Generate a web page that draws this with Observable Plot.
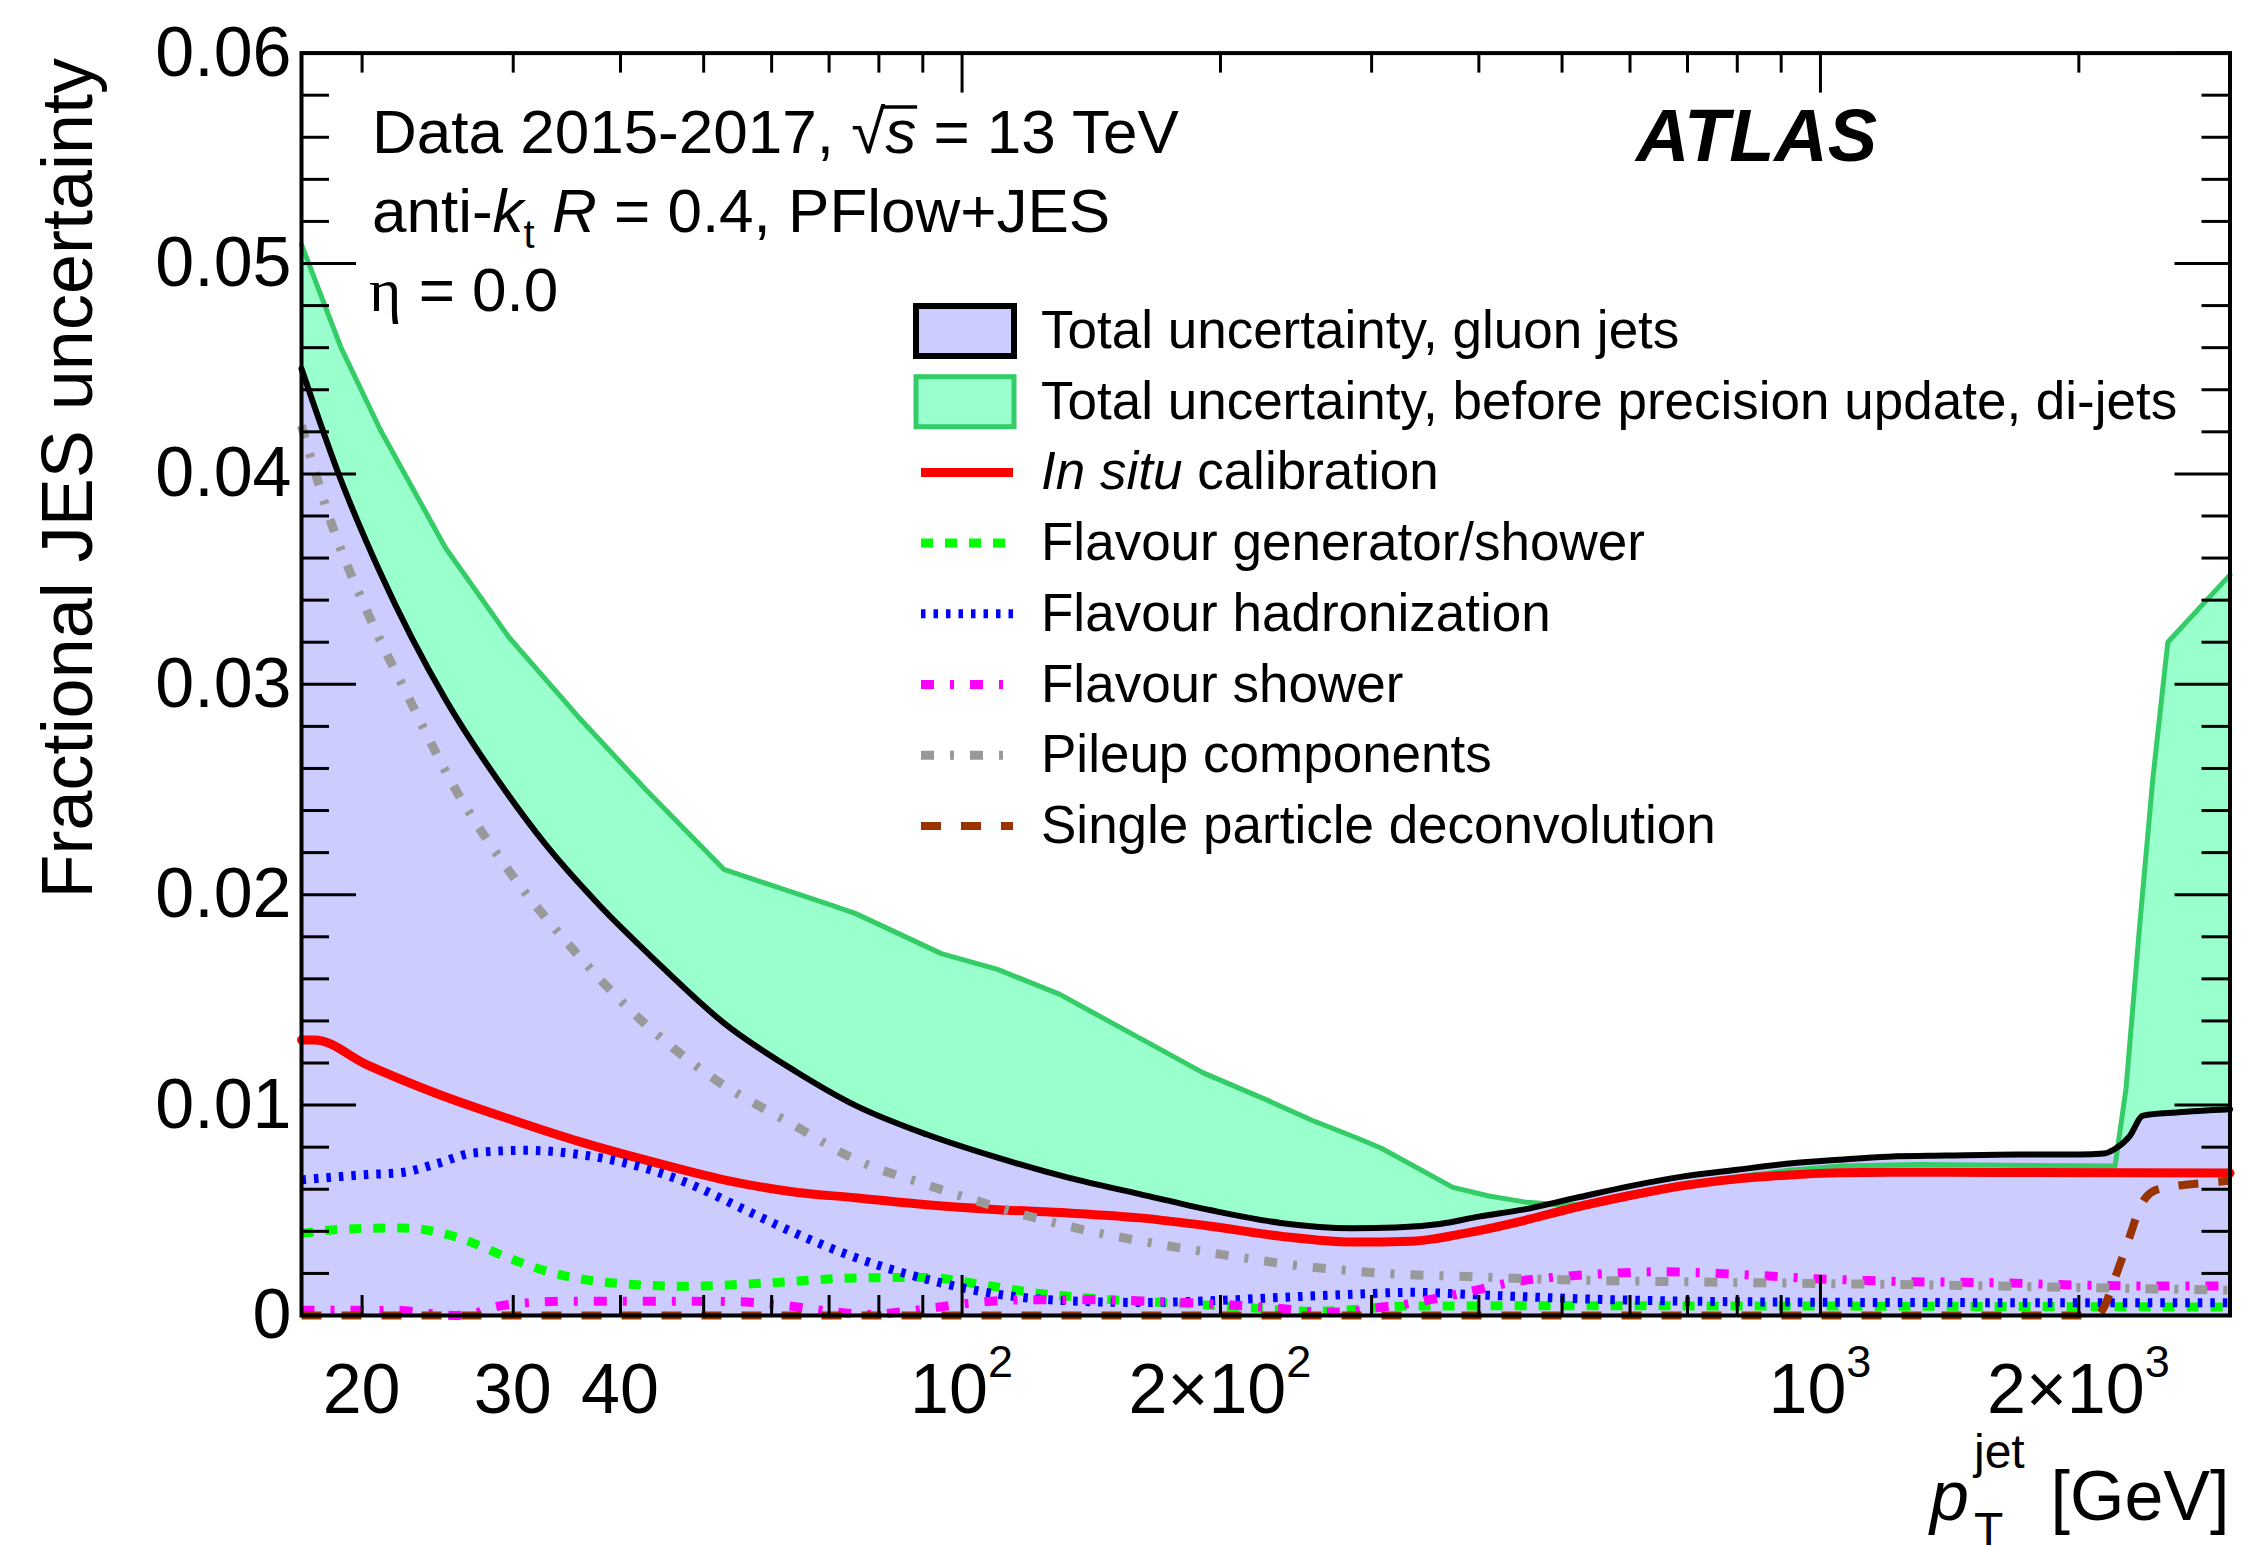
<!DOCTYPE html>
<html>
<head>
<meta charset="utf-8">
<script src="https://cdn.jsdelivr.net/npm/d3@7"></script>
<script src="https://cdn.jsdelivr.net/npm/@observablehq/plot@0.6"></script>
<style>
  html, body { margin: 0; padding: 0; background: #fff; }
</style>
</head>
<body>
<div id="chart"></div>
<script>
const FONT = "'Liberation Sans', Arial, Helvetica, sans-serif";

// Jet pT [GeV] and fractional JES uncertainty, eta = 0
const totalGluon = [[17,0.0450],[18.9,0.0397],[21,0.0353],[25,0.0293],[29.3,0.0250],[32.7,0.0224],[37.8,0.0195],[43.6,0.0170],[52.8,0.0139],[64,0.0116],[75,0.0100],[91,0.0086],[110,0.0075],[133,0.00655],[161,0.00577],[195,0.0050],[235,0.0044],[285,0.00415],[320,0.00418],[360,0.00435],[400,0.0047],[450,0.00503],[520,0.0056],[600,0.00615],[690,0.0066],[800,0.00693],[920,0.00722],[1050,0.0074],[1200,0.00755],[1400,0.0076],[1700,0.00765],[2000,0.00765],[2140,0.0077],[2200,0.0079],[2290,0.0085],[2376,0.0095],[2600,0.00965],[3000,0.0098]];

const totalBeforeUpdate = [[17,0.0509],[18.9,0.0460],[21,0.0421],[25,0.0365],[29.7,0.0322],[36,0.0283],[42.8,0.0250],[52.8,0.0212],[70.4,0.0195],[75.2,0.0191],[94.6,0.0172],[110,0.01645],[130,0.01526],[156,0.01349],[191,0.01153],[226,0.01026],[256,0.00927],[288,0.00845],[308,0.00795],[373,0.00609],[411,0.00568],[452,0.0054],[500,0.00525],[550,0.0053],[600,0.0058],[700,0.0063],[800,0.0066],[920,0.0069],[1050,0.0071],[1300,0.00718],[2204,0.0071],[2270,0.0108],[2353,0.0184],[2439,0.0255],[2539,0.0320],[3000,0.0352]];

const inSitu = [[17,0.0131],[17.6,0.0131],[20.3,0.0119],[24.5,0.01053],[29.7,0.00934],[36,0.00824],[43.6,0.0073],[52.8,0.00645],[64,0.00586],[75,0.0056],[91,0.00526],[110,0.00503],[133,0.00487],[161,0.00464],[195,0.00424],[235,0.00377],[285,0.00349],[334,0.00353],[389,0.00394],[449,0.00449],[517,0.00513],[596,0.00568],[687,0.00615],[791,0.00647],[912,0.00667],[1051,0.00678],[1211,0.00681],[1600,0.0068],[3000,0.00677]];

const flavourGenerator = [[17,0.0039],[19,0.0041],[22.3,0.00416],[25.7,0.00374],[29.7,0.00272],[32.7,0.00212],[39.6,0.00153],[48,0.00139],[58.2,0.00153],[75.2,0.00178],[91,0.00181],[105,0.00148],[121,0.00109],[146,0.00078],[177,0.00059],[214,0.00038],[259,0.0002],[334,0.00045],[500,0.00046],[3000,0.0004]];

const hadronization = [[17,0.00645],[20.3,0.0067],[22.3,0.0068],[24.5,0.00723],[27,0.00773],[31.2,0.00785],[36,0.00764],[41.6,0.00713],[48,0.00628],[55.4,0.00509],[64,0.0039],[75.2,0.00275],[91,0.00172],[110,0.00101],[133,0.0007],[161,0.00062],[195,0.0007],[235,0.00086],[285,0.00101],[334,0.0011],[400,0.00098],[520,0.0008],[700,0.00068],[1200,0.00062],[3000,0.0006]];

const flavourShower = [[17,0.00025],[22,0.00024],[24,0.0001],[25.5,0],[27,0.0001],[28.5,0.0004],[31,0.0006],[35,0.00068],[45,0.00068],[55,0.00065],[63,0.00045],[70,0.0002],[78,0.00005],[86,0.0002],[94,0.0004],[103,0.0006],[120,0.00075],[140,0.00075],[165,0.00068],[190,0.00058],[215,0.00045],[240,0.0003],[262,0.00015],[285,0.0002],[305,0.00038],[322,0.00048],[340,0.00065],[390,0.00114],[440,0.0016],[500,0.00185],[570,0.002],[650,0.00208],[740,0.00202],[850,0.0019],[970,0.00176],[1100,0.00168],[1250,0.00161],[1450,0.00158],[1650,0.00155],[1850,0.00148],[2100,0.00143],[2400,0.0014],[3000,0.0014]];

const pileup = [[17,0.0423],[18.4,0.0377],[20.3,0.0334],[22.7,0.0293],[25.7,0.0250],[29.7,0.0211],[34.7,0.0177],[41.6,0.0143],[50.8,0.0114],[64,0.0090],[74.6,0.00747],[91,0.00621],[103,0.0055],[116,0.00487],[133,0.00424],[170,0.00338],[195,0.00298],[249,0.00235],[285,0.00212],[322,0.00196],[374,0.00187],[500,0.0017],[700,0.0016],[1000,0.00152],[1500,0.00142],[2200,0.0013],[3000,0.0012]];

const singleParticle = [[17,0],[2100,0],[2140,0.0004],[2200,0.0017],[2290,0.0037],[2360,0.0052],[2440,0.0059],[2550,0.0061],[2800,0.0063],[3000,0.0064]];

// Axis ticks and labels
const yMajorTicks = [0, 0.01, 0.02, 0.03, 0.04, 0.05, 0.06];
const yMinorTicks = [0.002,0.004,0.006,0.008,0.012,0.014,0.016,0.018,0.022,0.024,0.026,0.028,0.032,0.034,0.036,0.038,0.042,0.044,0.046,0.048,0.052,0.054,0.056,0.058];
const xMajorTicks = [100, 1000];
const xMinorTicks = [20,30,40,50,60,70,80,90,200,300,400,500,600,700,800,900,2000];
const xTickLabels = [
  {v: 20, base: "20"}, {v: 30, base: "30"}, {v: 40, base: "40"},
  {v: 100, base: "10", exp: "2"}, {v: 200, base: "2\u00d710", exp: "2"},
  {v: 1000, base: "10", exp: "3"}, {v: 2000, base: "2\u00d710", exp: "3"}
];

const rows = (arr) => arr.map(([pt, v]) => ({pt, v}));
const smooth = (extra) => ({x: "pt", y: "v", curve: "monotone-x", ...extra});
const dashed = (extra) => smooth({strokeLinecap: "butt", strokeLinejoin: "round", ...extra});

const tickStyle = {stroke: "#000", strokeWidth: 3};

const plot = Plot.plot({
  width: 2244,
  height: 1545,
  marginLeft: 301,
  marginRight: 14.5,
  marginTop: 52.6,
  marginBottom: 230,
  x: {type: "log", domain: [17, 3000], axis: null},
  y: {domain: [0, 0.06], axis: null},
  style: {fontFamily: FONT, background: "#fff", color: "#000"},
  marks: [
    Plot.areaY(rows(totalBeforeUpdate), {x: "pt", y: "v", fill: "#99ffcc", curve: "linear"}),
    Plot.areaY(rows(totalGluon), {x: "pt", y: "v", fill: "#ccccff", curve: "monotone-x"}),
    Plot.line(rows(totalBeforeUpdate), {x: "pt", y: "v", stroke: "#33cc66", strokeWidth: 5, curve: "linear"}),
    Plot.line(rows(inSitu), smooth({stroke: "#ff0000", strokeWidth: 9})),
    Plot.line(rows(flavourGenerator), dashed({stroke: "#00ff00", strokeWidth: 9, strokeDasharray: "12,12"})),
    Plot.line(rows(hadronization), dashed({stroke: "#0000ff", strokeWidth: 9, strokeDasharray: "4.5,8"})),
    Plot.line(rows(flavourShower), dashed({stroke: "#ff00ff", strokeWidth: 9, strokeDasharray: "13,16,4,16"})),
    Plot.line(rows(pileup), dashed({stroke: "#999999", strokeWidth: 9, strokeDasharray: "13,16,4,16"})),
    Plot.line(rows(singleParticle), dashed({stroke: "#993300", strokeWidth: 8, strokeDasharray: "20,20"})),
    Plot.line(rows(totalGluon), smooth({stroke: "#000", strokeWidth: 6})),

    // inward ticks on all four sides
    Plot.ruleX(xMinorTicks, {x: (d) => d, y1: () => 0, y2: () => 0, insetTop: -20, ...tickStyle}),
    Plot.ruleX(xMajorTicks, {x: (d) => d, y1: () => 0, y2: () => 0, insetTop: -40, ...tickStyle}),
    Plot.ruleX(xMinorTicks, {x: (d) => d, y1: () => 0.06, y2: () => 0.06, insetBottom: -20, ...tickStyle}),
    Plot.ruleX(xMajorTicks, {x: (d) => d, y1: () => 0.06, y2: () => 0.06, insetBottom: -40, ...tickStyle}),
    Plot.ruleY(yMinorTicks, {y: (d) => d, x1: () => 17, x2: () => 17, insetRight: -28, ...tickStyle}),
    Plot.ruleY(yMajorTicks, {y: (d) => d, x1: () => 17, x2: () => 17, insetRight: -55, ...tickStyle}),
    Plot.ruleY(yMinorTicks, {y: (d) => d, x1: () => 3000, x2: () => 3000, insetLeft: -28, ...tickStyle}),
    Plot.ruleY(yMajorTicks, {y: (d) => d, x1: () => 3000, x2: () => 3000, insetLeft: -55, ...tickStyle}),
    Plot.frame({stroke: "#000", strokeWidth: 4}),

    Plot.text(yMajorTicks, {
      x: () => 17, y: (d) => d,
      text: (d) => (d === 0 ? "0" : d.toFixed(2)),
      textAnchor: "end", dx: -10, fontSize: 70, fill: "#000"
    })
  ]
});

document.getElementById("chart").appendChild(plot);

const svg = d3.select(plot);
const xs = plot.scale("x");
const ys = plot.scale("y");
const g = svg.append("g")
  .attr("font-family", FONT)
  .attr("fill", "#000")
  .attr("text-anchor", "start");

// x tick labels with exponents
const yZero = ys.apply(0);
for (const t of xTickLabels) {
  const txt = g.append("text")
    .attr("x", xs.apply(t.v))
    .attr("y", yZero + 98)
    .attr("text-anchor", "middle")
    .attr("font-size", 70);
  txt.append("tspan").text(t.base);
  if (t.exp) txt.append("tspan").attr("font-size", 45).attr("dy", -36).text(t.exp);
}

// axis titles
g.append("text")
  .attr("transform", "translate(92,58) rotate(-90)")
  .attr("text-anchor", "end")
  .attr("font-size", 72)
  .text("Fractional JES uncertainty");

g.append("text").attr("x", 2229.5).attr("y", 1520).attr("text-anchor", "end").attr("font-size", 70).text("[GeV]");
g.append("text").attr("x", 1930).attr("y", 1520).attr("font-size", 70).attr("font-style", "italic").text("p");
g.append("text").attr("x", 1974).attr("y", 1468).attr("font-size", 48).text("jet");
g.append("text").attr("x", 1974).attr("y", 1546).attr("font-size", 48).text("T");

// labels in the upper left
const lineFont = 62;
const l1 = g.append("text").attr("x", 372).attr("y", 153).attr("font-size", lineFont);
l1.append("tspan").text("Data 2015-2017, ");
l1.append("tspan").text("\u221a");
l1.append("tspan").attr("font-style", "italic").text("s");
l1.append("tspan").text(" = 13 TeV");
// bar of the square root over "s"
{
  const node = l1.node();
  const iRoot = "Data 2015-2017, ".length;
  const rootBox = node.getExtentOfChar(iRoot);
  const sBox = node.getExtentOfChar(iRoot + 1);
  g.append("line")
    .attr("x1", rootBox.x + rootBox.width - 3)
    .attr("x2", sBox.x + sBox.width + 1)
    .attr("y1", 153 - lineFont * 0.74)
    .attr("y2", 153 - lineFont * 0.74)
    .attr("stroke", "#000").attr("stroke-width", 3.5);
}

const l2 = g.append("text").attr("x", 372).attr("y", 232).attr("font-size", lineFont);
l2.append("tspan").text("anti-");
l2.append("tspan").attr("font-style", "italic").text("k");
l2.append("tspan").attr("font-size", 40).attr("dy", 16).text("t");
l2.append("tspan").attr("dy", -16).text(" ");
l2.append("tspan").attr("font-style", "italic").text("R");
l2.append("tspan").text(" = 0.4, PFlow+JES");

const l3 = g.append("text").attr("x", 369).attr("y", 311).attr("font-size", lineFont);
l3.append("tspan").attr("font-family", "'Liberation Serif', 'DejaVu Serif', serif").text("\u03b7");
l3.append("tspan").text(" = 0.0");

g.append("text")
  .attr("x", 1636).attr("y", 161)
  .attr("font-size", 74).attr("font-weight", "bold").attr("font-style", "italic")
  .text("ATLAS");

// legend
const legendEntries = [
  {kind: "box", fill: "#ccccff", stroke: "#000", width: 6, text: [["Total uncertainty, gluon jets"]]},
  {kind: "box", fill: "#99ffcc", stroke: "#33cc66", width: 5, text: [["Total uncertainty, before precision update, di-jets"]]},
  {kind: "line", stroke: "#ff0000", width: 9, dash: null, text: [["In situ", "italic"], [" calibration"]]},
  {kind: "line", stroke: "#00ff00", width: 9, dash: "12,12", text: [["Flavour generator/shower"]]},
  {kind: "line", stroke: "#0000ff", width: 9, dash: "4.5,8", text: [["Flavour hadronization"]]},
  {kind: "line", stroke: "#ff00ff", width: 9, dash: "13,16,4,16", text: [["Flavour shower"]]},
  {kind: "line", stroke: "#999999", width: 9, dash: "13,16,4,16", text: [["Pileup components"]]},
  {kind: "line", stroke: "#993300", width: 8, dash: "20,20", text: [["Single particle deconvolution"]]}
];

legendEntries.forEach((e, i) => {
  const cy = 331 + i * 70.7;
  if (e.kind === "box") {
    g.append("rect")
      .attr("x", 916).attr("y", cy - 25).attr("width", 98).attr("height", 50)
      .attr("fill", e.fill).attr("stroke", e.stroke).attr("stroke-width", e.width);
  } else {
    g.append("line")
      .attr("x1", 921).attr("x2", 1013).attr("y1", cy).attr("y2", cy)
      .attr("stroke", e.stroke).attr("stroke-width", e.width)
      .attr("stroke-dasharray", e.dash)
      .attr("stroke-linecap", "butt");
  }
  const t = g.append("text").attr("x", 1041).attr("y", cy + 17).attr("font-size", 53);
  for (const [s, style] of e.text) {
    const sp = t.append("tspan").text(s);
    if (style) sp.attr("font-style", style);
  }
});
</script>
</body>
</html>
